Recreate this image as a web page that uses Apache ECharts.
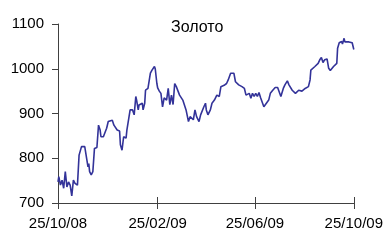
<!DOCTYPE html>
<html>
<head>
<meta charset="utf-8">
<script src="https://cdn.jsdelivr.net/npm/echarts@6/dist/echarts.min.js"></script>
<style>
  html, body { margin: 0; padding: 0; background: #fff; }
  #chart { width: 386px; height: 240px; }
</style>
</head>
<body>
<div id="chart"></div>
<script>
// дни от 25/10/08 и цена золота
const days = [0, 1, 3, 5, 7, 9, 11, 13, 15, 17, 19, 21, 23, 24, 26, 27, 29, 31, 33, 35,
  37, 38, 39, 41, 43, 45, 48, 49, 50, 52, 53, 56, 58, 60, 62, 64, 67, 69, 71, 73,
  75, 76, 77, 79, 80, 81, 84, 85, 87, 89, 91, 92, 94, 96, 97, 99, 100, 102, 104, 105,
  107, 108, 111, 113, 114, 116, 118, 119, 120, 122, 123, 125, 127, 129, 131, 134, 136, 138, 140, 142,
  144, 146, 148, 150, 152, 154, 156, 158, 161, 163, 165, 167, 169, 171, 174, 176, 178, 180, 182, 183,
  185, 188, 190, 193, 196, 199, 201, 203, 205, 208, 210, 213, 217, 219, 221, 223, 227, 230, 232, 234,
  236, 238, 240, 242, 244, 246, 248, 250, 252, 254, 256, 258, 260, 262, 265, 268, 271, 273, 275, 278,
  280, 283, 285, 287, 289, 291, 293, 295, 297, 299, 301, 303, 305, 307, 309, 311, 312, 314, 317, 319,
  321, 323, 325, 327, 329, 332, 334, 336, 338, 340, 342, 344, 345, 347, 350, 351, 353, 354, 356, 359,
  361, 363, 364, 365];
const prices = [747, 759, 740, 751, 733, 770, 736, 747, 740, 716, 751, 744, 747, 740, 807, 803, 826, 822, 826, 822,
  781, 788, 770, 763, 770, 822, 824, 822, 874, 863, 848, 848, 852, 867, 882, 885, 885, 874, 870, 863,
  859, 861, 830, 818, 817, 848, 845, 863, 863, 908, 911, 908, 897, 938, 930, 908, 919, 915, 923, 908,
  923, 952, 956, 952, 990, 997, 1001, 1005, 1000, 967, 957, 950, 945, 915, 935, 930, 956, 920, 941, 920,
  967, 960, 963, 941, 938, 930, 934, 908, 882, 893, 897, 886, 908, 893, 882, 897, 897, 915, 923, 908,
  897, 908, 923, 930, 941, 938, 960, 958, 963, 967, 975, 990, 990, 971, 973, 964, 960, 956, 941, 938,
  945, 934, 945, 938, 945, 938, 947, 935, 938, 915, 919, 925, 930, 945, 952, 958, 958, 958, 938, 956,
  964, 973, 964, 960, 952, 956, 945, 941, 952, 956, 950, 952, 956, 952, 960, 975, 997, 1001, 1005, 1008,
  1012, 1020, 1025, 1014, 1020, 1022, 1001, 996, 996, 1005, 1008, 1012, 1046, 1058, 1061, 1055, 1068, 1060, 1064, 1060,
  1062, 1058, 1061, 1043];

const tickDays = [0, 123, 243, 365];
const tickLabels = ['25/10/08', '25/02/09', '25/06/09', '25/10/09'];

const chart = echarts.init(document.getElementById('chart'));
const font = 'Liberation Sans, Arial, sans-serif';
const axisColor = '#404040';

chart.setOption({
  backgroundColor: '#fff',
  animation: false,
  title: {
    text: 'Золото',
    left: 166,
    top: 15,
    textStyle: { fontFamily: font, fontSize: 16, fontWeight: 'normal', color: '#000' }
  },
  grid: { left: 58, right: 31, top: 24, bottom: 37 },
  xAxis: [{
    type: 'value',
    min: 0,
    max: 365,
    axisLine: { lineStyle: { color: axisColor, width: 1 } },
    axisTick: { show: true, length: 6, customValues: tickDays, lineStyle: { color: axisColor } },
    axisLabel: {
      customValues: tickDays,
      margin: 13,
      fontFamily: font, fontSize: 15, color: '#000',
      formatter: v => tickLabels[tickDays.indexOf(v)]
    },
    splitLine: { show: false }
  }, {
    // внутренние засечки, чтобы пересекали ось
    type: 'value',
    position: 'bottom',
    min: 0,
    max: 365,
    axisLine: { show: false },
    axisTick: { show: true, inside: true, length: 6, customValues: tickDays, lineStyle: { color: axisColor } },
    axisLabel: { show: false },
    splitLine: { show: false }
  }],
  yAxis: {
    type: 'value',
    min: 700,
    max: 1100,
    interval: 100,
    axisLine: { show: true, lineStyle: { color: axisColor, width: 1 } },
    axisTick: { show: true, length: 6, lineStyle: { color: axisColor } },
    axisLabel: { margin: 14, fontFamily: font, fontSize: 15, color: '#000', formatter: v => String(v) },
    splitLine: { show: false }
  },
  series: [{
    type: 'line',
    xAxisIndex: 0,
    data: days.map((d, i) => [d, prices[i]]),
    symbol: 'none',
    lineStyle: { color: '#333399', width: 1.6 }
  }]
});
</script>
</body>
</html>
